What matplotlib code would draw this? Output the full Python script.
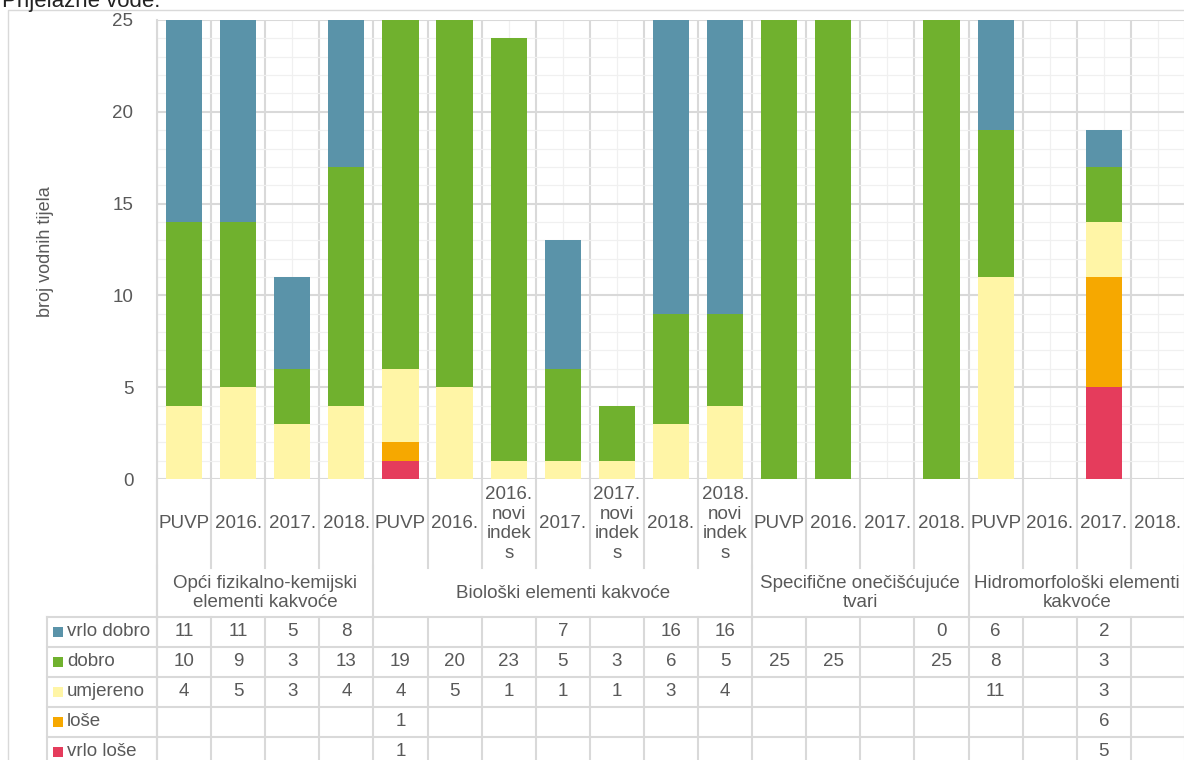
import numpy as np
import matplotlib
matplotlib.use("Agg")
import matplotlib.pyplot as plt
import matplotlib.transforms as mtransforms
from matplotlib.lines import Line2D
from matplotlib.patches import Rectangle

plt.rcParams['font.family'] = ['Liberation Sans', 'DejaVu Sans']

# categories (x axis, two levels)
categories = ["PUVP", "2016.", "2017.", "2018.",
              "PUVP", "2016.", "2016.\nnovi\nindek\ns", "2017.", "2017.\nnovi\nindek\ns",
              "2018.", "2018.\nnovi\nindek\ns",
              "PUVP", "2016.", "2017.", "2018.",
              "PUVP", "2016.", "2017.", "2018."]
groups = ["Opći fizikalno-kemijski\nelementi kakvoće",
          "Biološki elementi kakvoće",
          "Specifične onečišćujuće\ntvari",
          "Hidromorfološki elementi\nkakvoće"]
group_sizes = [4, 7, 4, 4]

N = None
vrlo_dobro = [11, 11, 5, 8, N, N, N, 7, N, 16, 16, N, N, N, 0, 6, N, 2, N]
dobro = [10, 9, 3, 13, 19, 20, 23, 5, 3, 6, 5, 25, 25, N, 25, 8, N, 3, N]
umjereno = [4, 5, 3, 4, 4, 5, 1, 1, 1, 3, 4, N, N, N, N, 11, N, 3, N]
lose = [N, N, N, N, 1, N, N, N, N, N, N, N, N, N, N, N, N, 6, N]
vrlo_lose = [N, N, N, N, 1, N, N, N, N, N, N, N, N, N, N, N, N, 5, N]

series_names = ["vrlo dobro", "dobro", "umjereno", "loše", "vrlo loše"]
series = [vrlo_dobro, dobro, umjereno, lose, vrlo_lose]
colors = ["#5A93A9", "#70B12E", "#FFF5A6", "#F6A800", "#E53C5C"]

W, H = 1184, 760
txt = "#595959"
grid_major = "#d9d9d9"
grid_minor = "#f0f0f0"
fs = 13.5


def fx(px):
    return px / W


def fy(py):
    return 1 - py / H


fig = plt.figure(figsize=(W / 100, H / 100), dpi=100)
ax = fig.add_axes([fx(157), fy(479), fx(1185) - fx(157), fy(20) - fy(479)])

n = len(categories)
x = np.arange(n)

# stack from the bottom: vrlo loše, loše, umjereno, dobro, vrlo dobro
bottom = np.zeros(n)
for vals, col in zip(series[::-1], colors[::-1]):
    h = np.array([0 if v is None else v for v in vals], dtype=float)
    ax.bar(x, h, width=0.67, bottom=bottom, color=col, linewidth=0, zorder=3)
    bottom += h

ax.set_xlim(-0.5, n - 0.5)
ax.set_ylim(0, 25)
ax.set_yticks(range(0, 26, 5))
ax.set_yticks(range(26), minor=True)
ax.set_xticks(np.arange(-0.5, n, 1))
ax.set_xticks(x, minor=True)
ax.set_xticklabels([])
ax.grid(which="major", color=grid_major, lw=1.5, zorder=0)
ax.grid(which="minor", color=grid_minor, lw=0.9, zorder=0)
ax.set_axisbelow(True)
ax.tick_params(which="both", length=0)
ax.tick_params(axis="y", labelsize=fs, labelcolor=txt, pad=17)
for s in ax.spines.values():
    s.set_visible(False)

fig.text(fx(45), fy(252), "broj vodnih tijela", rotation=90, ha="center", va="center",
         fontsize=13, color=txt)
fig.text(fx(2), fy(7), "Prijelazne vode:", ha="left", va="baseline", fontsize=16, color="#222222")

blend = mtransforms.blended_transform_factory(ax.transData, fig.transFigure)


def vline(xd, py0, py1, tr=blend):
    fig.add_artist(Line2D([xd, xd], [fy(py0), fy(py1)], transform=tr, color=grid_major, lw=1.5))


def hline(px0, px1, py):
    fig.add_artist(Line2D([fx(px0), fx(px1)], [fy(py), fy(py)], transform=fig.transFigure,
                          color=grid_major, lw=1.5))


# outer chart border
fig.add_artist(Line2D([fx(8), fx(8), fx(1184)], [fy(762), fy(10), fy(10)],
                      transform=fig.transFigure, color=grid_major, lw=1.0))

# category labels area
for b in np.arange(-0.5, n, 1):
    vline(b, 479, 568)
    vline(b, 617, 762)
for i, lab in enumerate(categories):
    fig.text(i, fy(524), lab, transform=blend, ha="center", va="center", fontsize=fs,
             color=txt, linespacing=1.2, multialignment="center")

# group labels
start = 0
bounds = [-0.5]
for g, size in zip(groups, group_sizes):
    c = start + (size - 1) / 2
    fig.text(c, fy(593), g, transform=blend, ha="center", va="center", fontsize=fs,
             color=txt, multialignment="center", linespacing=1.2)
    start += size
    bounds.append(start - 0.5)
for b in bounds:
    vline(b, 566, 619)
vline(-0.5, 20, 762)

# data table
row_top = 617
row_h = 30
for r in range(6):
    hline(47, 1184, row_top + r * row_h)
vline(fx(47), 617, 762, tr=fig.transFigure)
for r, (name, vals, col) in enumerate(zip(series_names, series, colors)):
    yc = row_top + row_h * r + row_h / 2
    fig.add_artist(Rectangle((fx(53), fy(yc + 5)), fx(10), fy(yc - 5) - fy(yc + 5),
                             transform=fig.transFigure, color=col, lw=0))
    fig.text(fx(67), fy(yc), name, ha="left", va="center", fontsize=fs, color=txt)
    for i, v in enumerate(vals):
        if v is not None:
            fig.text(i, fy(yc), str(v), transform=blend, ha="center", va="center",
                     fontsize=fs, color=txt)

fig.savefig("out.png", dpi=100)
